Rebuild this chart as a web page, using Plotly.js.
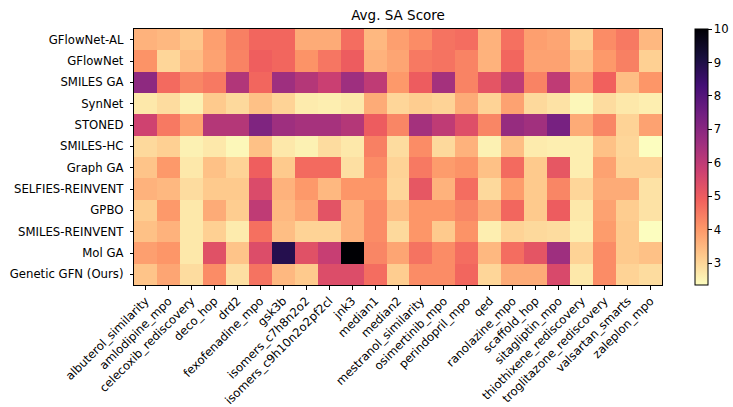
<!DOCTYPE html>
<html>
<head>
<meta charset="utf-8">
<script src="https://cdn.plot.ly/plotly-3.0.1.min.js"></script>
<style>html,body{margin:0;padding:0;background:#fff;}#chart{width:733px;height:407px;}</style>
</head>
<body>
<div id="chart"></div>
<script>
const methods = ["GFlowNet-AL","GFlowNet","SMILES GA","SynNet","STONED","SMILES-HC","Graph GA","SELFIES-REINVENT","GPBO","SMILES-REINVENT","Mol GA","Genetic GFN (Ours)"];
const tasks = ["albuterol_similarity","amlodipine_mpo","celecoxib_rediscovery","deco_hop","drd2","fexofenadine_mpo","gsk3b","isomers_c7h8n2o2","isomers_c9h10n2o2pf2cl","jnk3","median1","median2","mestranol_similarity","osimertinib_mpo","perindopril_mpo","qed","ranolazine_mpo","scaffold_hop","sitagliptin_mpo","thiothixene_rediscovery","troglitazone_rediscovery","valsartan_smarts","zaleplon_mpo"];

const gflownetAL   = [3.6,3.5,3.25,3.9,4.4,4.8,4.8,3.7,3.7,4.7,3.5,3.9,4.2,4.6,4.7,3.6,4.65,3.9,3.8,3.1,4.2,4.5,3.5];
const gflownet     = [4.1,3.0,3.4,3.85,4.35,4.95,4.8,4.1,4.55,5.0,3.6,3.8,4.5,4.6,4.35,3.6,4.8,3.85,3.85,3.35,4.0,4.4,3.1];
const smilesGA     = [6.9,4.75,4.3,4.5,6.25,4.8,6.6,6.2,5.8,6.6,6.0,4.0,5.0,6.5,4.35,5.2,6.0,4.35,6.0,3.85,4.9,3.4,4.05];
const synNet       = [2.7,2.9,2.55,3.2,2.95,3.35,3.05,2.65,2.6,2.7,3.7,3.0,3.15,3.05,3.7,3.05,3.85,2.95,2.8,2.45,2.9,2.7,2.6];
const stoned       = [5.7,4.5,3.85,6.2,6.2,7.2,6.6,6.45,6.45,6.2,5.0,4.3,6.5,6.0,5.35,4.3,6.75,6.55,7.35,3.7,4.3,3.05,3.85];
const smilesHC     = [2.95,3.1,2.55,2.7,2.45,3.35,2.7,2.55,2.9,2.7,4.4,2.9,4.2,2.95,3.6,2.55,3.4,2.65,2.6,2.6,3.35,3.0,2.35];
const graphGA      = [3.3,4.0,2.7,3.35,3.05,4.95,3.2,4.75,4.75,2.85,4.2,3.05,4.5,3.95,4.1,3.35,4.75,3.2,5.15,2.6,3.85,3.05,3.05];
const selfiesRV    = [3.6,3.5,2.9,3.2,3.2,5.45,3.6,4.0,3.5,4.05,4.05,3.0,5.15,3.6,4.7,2.95,3.95,3.2,4.3,3.0,3.7,3.7,2.8];
const gpbo         = [3.15,4.0,2.7,3.7,3.15,6.0,3.5,3.8,5.25,3.6,4.2,3.4,4.05,4.05,4.3,3.7,4.8,3.2,5.0,2.7,3.85,3.15,2.8];
const smilesRV     = [3.35,3.6,2.7,3.1,2.65,4.65,3.4,3.05,3.05,3.6,4.2,2.95,4.05,3.2,4.1,2.6,3.05,2.95,2.9,2.6,3.95,3.2,2.35];
const molGA        = [3.9,4.05,2.7,5.3,3.3,5.4,8.9,5.3,5.85,10.0,4.3,3.8,4.6,4.2,4.7,3.5,4.7,5.2,6.6,3.05,4.2,3.2,3.35];
const geneticGFN   = [3.3,3.8,2.9,4.2,2.85,4.6,3.5,3.2,5.4,5.4,4.7,3.15,4.2,4.2,4.8,3.0,3.7,3.7,5.5,2.7,4.2,3.05,2.9];

const zValues = [gflownetAL,gflownet,smilesGA,synNet,stoned,smilesHC,graphGA,selfiesRV,gpbo,smilesRV,molGA,geneticGFN];
const cbTicks = [3,4,5,6,7,8,9,10];

const magmaR = ['#fcfdbf','#feca8d','#fd9668','#f1605d','#cd4071','#9e2f7f','#721f81','#440f76','#180f3d','#000004'];
const colorscale = magmaR.map((c,i)=>[i/(magmaR.length-1), c]);

const font = {family:'"DejaVu Sans", sans-serif', size:11.7, color:'#000'};

Plotly.newPlot('chart', [{
  type:'heatmap',
  z: zValues,
  x: tasks,
  y: methods,
  zmin: 2.35,
  zmax: 10,
  colorscale: colorscale,
  xgap: 0, ygap: 0,
  colorbar: {
    x: 1.0625, xanchor:'left', xpad:0, y:0.5, yanchor:'middle', ypad:0,
    len: 1, lenmode:'fraction', thickness: 13,
    outlinewidth: 1, outlinecolor:'#000',
    tickvals: cbTicks, ticktext: cbTicks.map(String),
    ticks:'outside', ticklen:3.5, tickcolor:'#000',
    tickfont: font
  }
}], {
  width:733, height:407,
  margin:{l:134, r:71, t:29, b:122, pad:0, autoexpand:false},
  paper_bgcolor:'#fff', plot_bgcolor:'#fff',
  font: font,
  title:{text:'Avg. SA Score', font:{family:'"DejaVu Sans", sans-serif', size:13.5, color:'#000'}, x:0.5, xref:'paper', xanchor:'center', y:0.962, yanchor:'middle'},
  xaxis:{tickangle:-45, tickfont:font, ticks:'outside', ticklen:3.5, tickcolor:'#000',
    showline:true, mirror:true, linecolor:'#000', linewidth:1, showgrid:false, zeroline:false, automargin:false},
  yaxis:{autorange:'reversed', tickfont:font, ticks:'outside', ticklen:3.5, tickcolor:'#000',
    showline:true, mirror:true, linecolor:'#000', linewidth:1, showgrid:false, zeroline:false, ticksuffix:' ', automargin:false}
}, {displayModeBar:false, staticPlot:true});
</script>
</body>
</html>
